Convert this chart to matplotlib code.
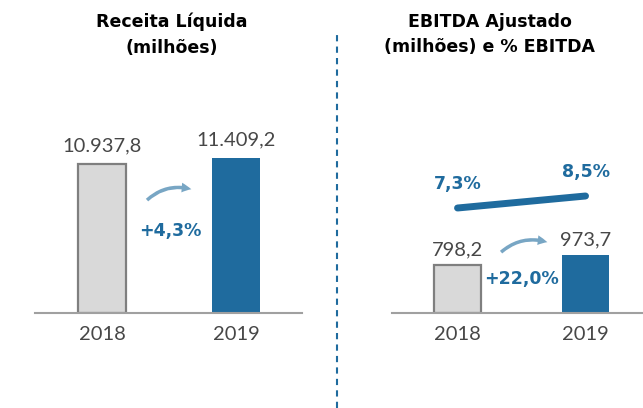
import matplotlib
matplotlib.use('Agg')
import matplotlib.pyplot as plt
from matplotlib.patches import FancyArrowPatch
from matplotlib.lines import Line2D

anos = ['2018', '2019']
receita = [10937.8, 11409.2]
receita_txt = ['10.937,8', '11.409,2']
receita_var = '+4,3%'
ebitda = [798.2, 973.7]
ebitda_txt = ['798,2', '973,7']
ebitda_var = '+22,0%'
margem = [7.3, 8.5]
margem_txt = ['7,3%', '8,5%']

AZUL = '#1f6b9e'
CINZA = '#d9d9d9'
TEXTO = '#474747'
W, H = 643, 408

plt.rcParams['font.family'] = ['DejaVu Sans']
NEGRITO = dict(fontsize=12.5, fontweight='bold')
NUM = dict(fontsize=14.5, color=TEXTO, family=['Lato', 'DejaVu Sans'])

fig = plt.figure(figsize=(W / 100, H / 100), dpi=100)


def px(x, y):
    return (x / W, 1 - y / H)


def painel(left, right, xlim, ylim, valores, textos, largura, dy):
    ax = fig.add_axes([left / W, (H - 313) / H, (right - left) / W, 253 / H])
    x = range(len(valores))
    ax.bar(x, valores, width=largura, color=[CINZA, AZUL],
           edgecolor=['#7f7f7f', AZUL], linewidth=[1.6, 0])
    for i, (v, t) in enumerate(zip(valores, textos)):
        ax.annotate(t, (i, v), xytext=(0, dy), textcoords='offset points',
                    ha='center', va='bottom', **NUM)
    ax.set_xlim(*xlim)
    ax.set_ylim(*ylim)
    ax.set_xticks(list(x))
    ax.set_xticklabels(anos, **NUM)
    ax.tick_params(axis='x', length=0, pad=9)
    ax.set_yticks([])
    for s in ['top', 'left', 'right']:
        ax.spines[s].set_visible(False)
    ax.spines['bottom'].set_color('#a0a0a0')
    ax.spines['bottom'].set_linewidth(1.5)
    ax.patch.set_alpha(0)
    return ax


# painel esquerdo - receita
ax1 = painel(35, 302, (-0.5, 1.49), (0, 18600), receita, receita_txt, 0.357, 7)
fig.text(*px(172, 22), 'Receita Líquida', ha='center', va='center', color='black', **NEGRITO)
fig.text(*px(172, 48), '(milhões)', ha='center', va='center', color='black', **NEGRITO)
fig.text(*px(170, 231), receita_var, ha='center', va='center', color=AZUL, **NEGRITO)

# painel direito - ebitda
ax2 = painel(392, 643, (-0.512, 1.449), (0, 4250), ebitda, ebitda_txt, 0.367, 5)
fig.text(*px(490, 22), 'EBITDA Ajustado', ha='center', va='center', color='black', **NEGRITO)
fig.text(*px(490, 47), '(milhões) e % EBITDA', ha='center', va='center', color='black', **NEGRITO)
fig.text(*px(521, 279), ebitda_var, ha='center', va='center', color=AZUL, **NEGRITO)

ax3 = ax2.twinx()
ax3.set_ylim(-3.2, 22.1)
ax3.plot([0, 1], margem, color=AZUL, linewidth=5, solid_capstyle='round')
for i, (v, t) in enumerate(zip(margem, margem_txt)):
    ax3.annotate(t, (i, v), xytext=(0, 11), textcoords='offset points',
                 ha='center', va='bottom', color=AZUL, **NEGRITO)
ax3.axis('off')

# setas curvas
for a, b in [((145, 202), (194, 190)), ((499, 254), (550, 243))]:
    seta = FancyArrowPatch(px(*a), px(*b), transform=fig.transFigure,
                           connectionstyle='arc3,rad=-0.3',
                           arrowstyle='simple,head_width=7,head_length=7,tail_width=2.5',
                           color=AZUL, alpha=0.6, lw=0)
    fig.add_artist(seta)

# separador tracejado
fig.add_artist(Line2D([337 / W, 337 / W], [0, 1 - 35 / H], transform=fig.transFigure,
                      color=AZUL, linewidth=1.5, linestyle=(0, (3, 2.5))))

fig.savefig('out.png', dpi=100)
